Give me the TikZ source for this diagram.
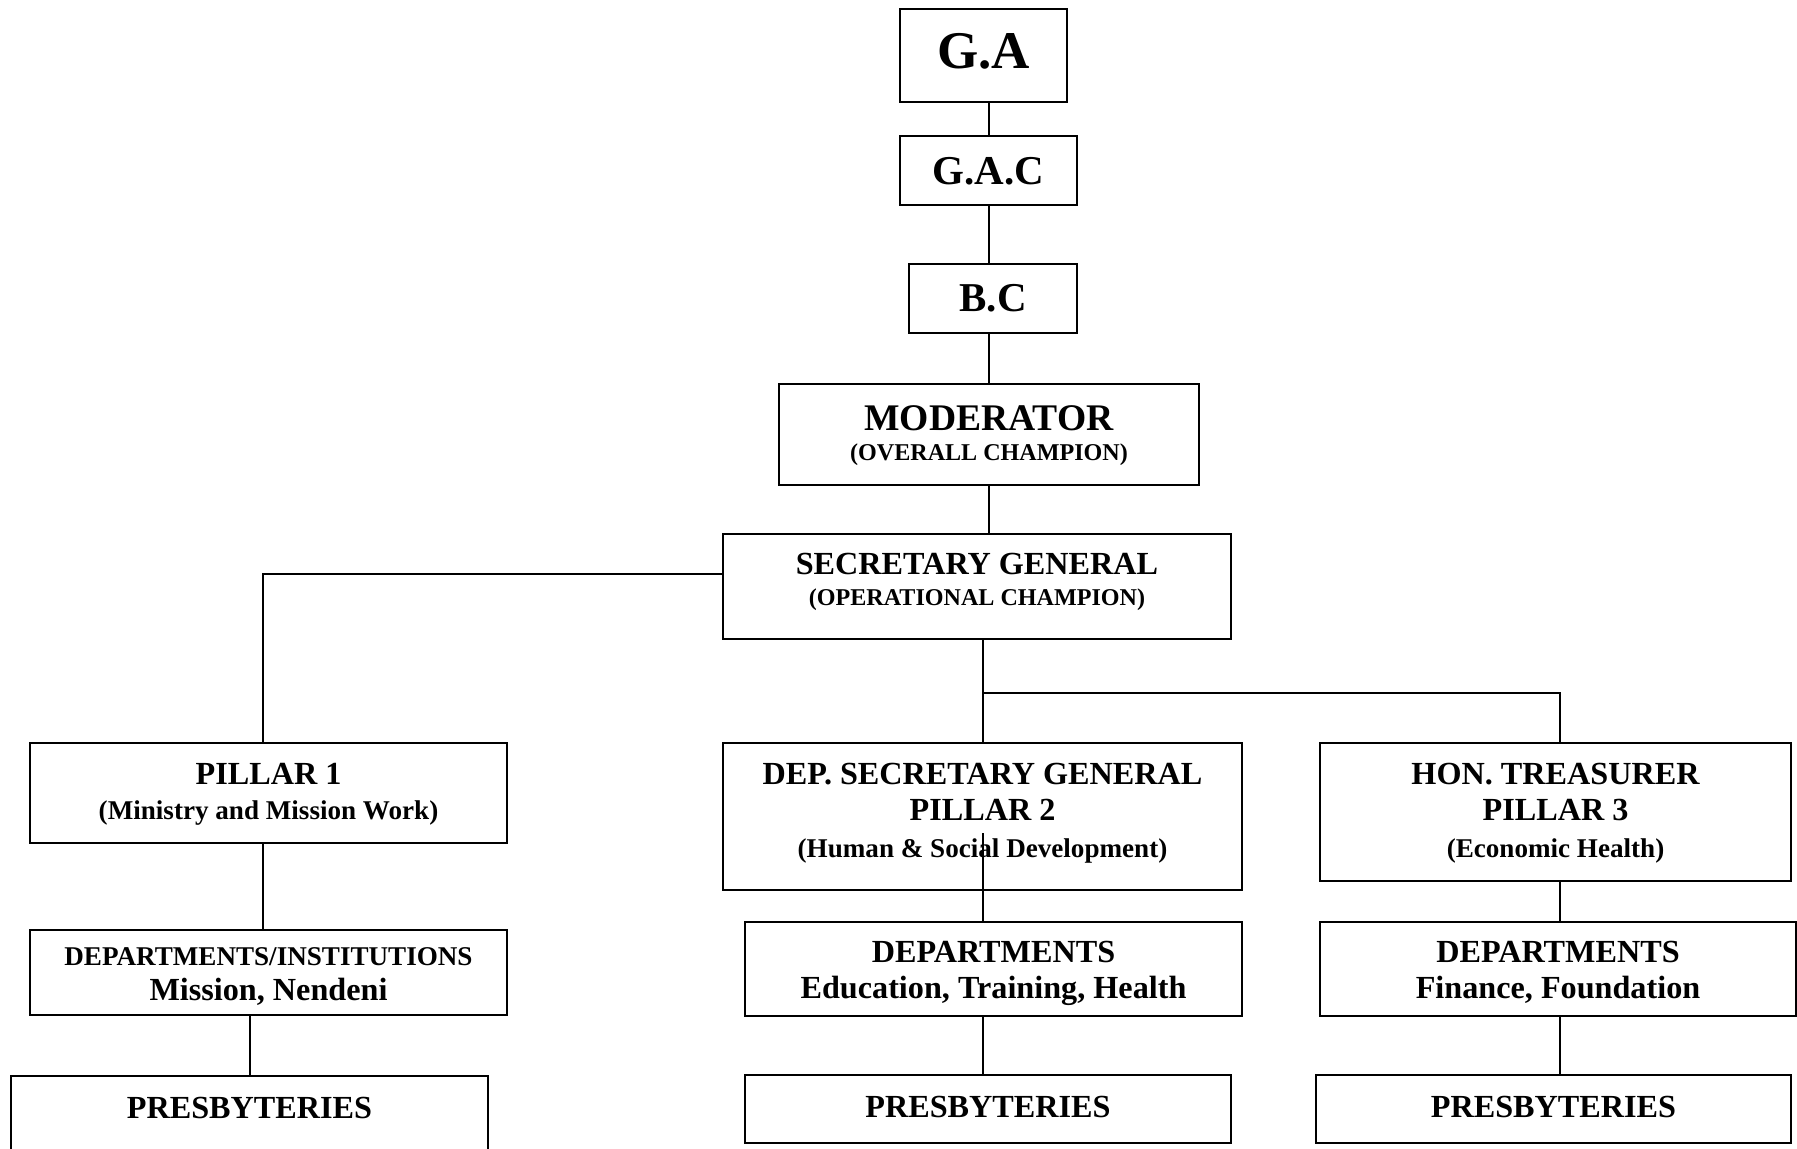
\documentclass[tikz,border=0pt]{standalone}
\usepackage{fontspec}
\setmainfont{Liberation Serif}
\usetikzlibrary{positioning}

% text sizes used in the chart
\newcommand\gaFont{\fontsize{26.5}{26.5}\selectfont}
\newcommand\bigFont{\fontsize{20.5}{20.5}\selectfont}
\newcommand\modFont{\fontsize{18.8}{18.8}\selectfont}
\newcommand\headFont{\fontsize{16.1}{16.1}\selectfont}
\newcommand\subFont{\fontsize{13.55}{13.55}\selectfont}
\newcommand\capFont{\fontsize{12.05}{12.05}\selectfont}

\begin{document}
\begin{tikzpicture}[
    x=0.5pt, y=-0.5pt,
    box/.style={
      draw,
      line width=1pt,
      inner sep=0pt,
      align=center
    },
    lsp/.style={font=\bfseries\fontsize{12}{#1}\selectfont},
    presb/.style={box, lsp=16pt, minimum height=34pt, text height=21pt, text depth=13pt},
    link/.style={line width=1pt}
  ]
    \useasboundingbox (0,0) rectangle (1797,1149);
    \clip (0,0) rectangle (1797,1149);

    % top of the chain
    \node[box, lsp=26pt, minimum width=83.5pt, text height=30pt, text depth=16.5pt] (ga) at (983.5,55.5) {\gaFont G.A};
    \node[box, lsp=20pt, minimum width=88.5pt, text height=24.5pt, text depth=10pt] (gac) at (988.5,170.5) {\bigFont G.A.C};
    \node[box, lsp=20pt, minimum width=84pt, text height=24pt, text depth=10.5pt] (bc) at (993,298.5) {\bigFont B.C};
    \node[box, lsp=15.5pt, minimum width=210pt, text height=38.5pt, text depth=12pt] (mod) at (989,434.5)
      {{\modFont MODERATOR}\\{\capFont (OVERALL CHAMPION)}};
    \node[box, lsp=15.5pt, minimum width=254pt, text height=35.5pt, text depth=17pt] (sg) at (977,586.5)
      {{\headFont SECRETARY GENERAL}\\{\capFont (OPERATIONAL CHAMPION)}};

    % the three pillars
    \node[box, lsp=17.5pt, minimum width=238.5pt, text height=38pt, text depth=12pt] (p1) at (268.5,793)
      {{\headFont PILLAR 1}\\{\subFont (Ministry and Mission Work)}};
    \node[box, lsp=18.3pt, minimum width=259.5pt, text height=57.1pt, text depth=16.4pt] (dsg) at (982.5,816.5)
      {{\headFont DEP. SECRETARY GENERAL}\\{\headFont PILLAR 2}\\{\subFont (Human \& Social Development)}};
    \node[box, lsp=18.3pt, minimum width=235.5pt, text height=57.1pt, text depth=11.9pt] (ht) at (1555.5,812)
      {{\headFont HON. TREASURER}\\{\headFont PILLAR 3}\\{\subFont (Economic Health)}};

    % departments
    \node[box, lsp=17.5pt, minimum width=238.5pt, text height=35pt, text depth=7.5pt] (dept1) at (268.5,972.5)
      {{\subFont DEPARTMENTS/INSTITUTIONS}\\{\headFont Mission, Nendeni}};
    \node[box, lsp=18pt, minimum width=248.5pt, text height=38pt, text depth=9pt] (dept2) at (993.5,969)
      {{\headFont DEPARTMENTS}\\{\headFont Education, Training, Health}};
    \node[box, lsp=18pt, minimum width=238pt, text height=38pt, text depth=9pt] (dept3) at (1558,969)
      {{\headFont DEPARTMENTS}\\{\headFont Finance, Foundation}};

    % presbyteries
    \node[presb, anchor=north, minimum width=238.5pt, minimum height=54pt, text depth=33pt] (presb1) at (249.5,1075) {\headFont PRESBYTERIES};
    \node[presb, minimum width=243pt] (presb2) at (988,1109) {\headFont PRESBYTERIES};
    \node[presb, minimum width=237.5pt] (presb3) at (1553.5,1109) {\headFont PRESBYTERIES};

    \coordinate (split) at (982.5,693);

    \draw[link] (ga.south -| mod.north) -- (gac.north -| mod.north);
    \draw[link] (gac.south -| mod.north) -- (bc.north -| mod.north);
    \draw[link] (bc.south -| mod.north) -- (mod.north);
    \draw[link] (mod.south) -- (sg.north -| mod.south);
    \draw[link] ([yshift=6.25pt]sg.west) -| ([xshift=-3pt]p1.north);
    \draw[link] (sg.south -| dsg.north) -- (dsg.north);
    \draw[link] (split) -| ([xshift=2pt]ht.north);
    \draw[link] ([xshift=-3pt]p1.south) -- ([xshift=-3pt]p1.south |- dept1.north);
    \draw[link] (presb1.north |- dept1.south) -- (presb1.north);
    \draw[link] ([yshift=29pt]dsg.south) -- (dept2.north -| dsg.south);
    \draw[link] (dept2.south -| dsg.south) -- (presb2.north -| dsg.south);
    \draw[link] ([xshift=2pt]ht.south) -- ([xshift=2pt]ht.south |- dept3.north);
    \draw[link] ([xshift=2pt]ht.south |- dept3.south) -- ([xshift=2pt]ht.south |- presb3.north);
\end{tikzpicture}
\end{document}
